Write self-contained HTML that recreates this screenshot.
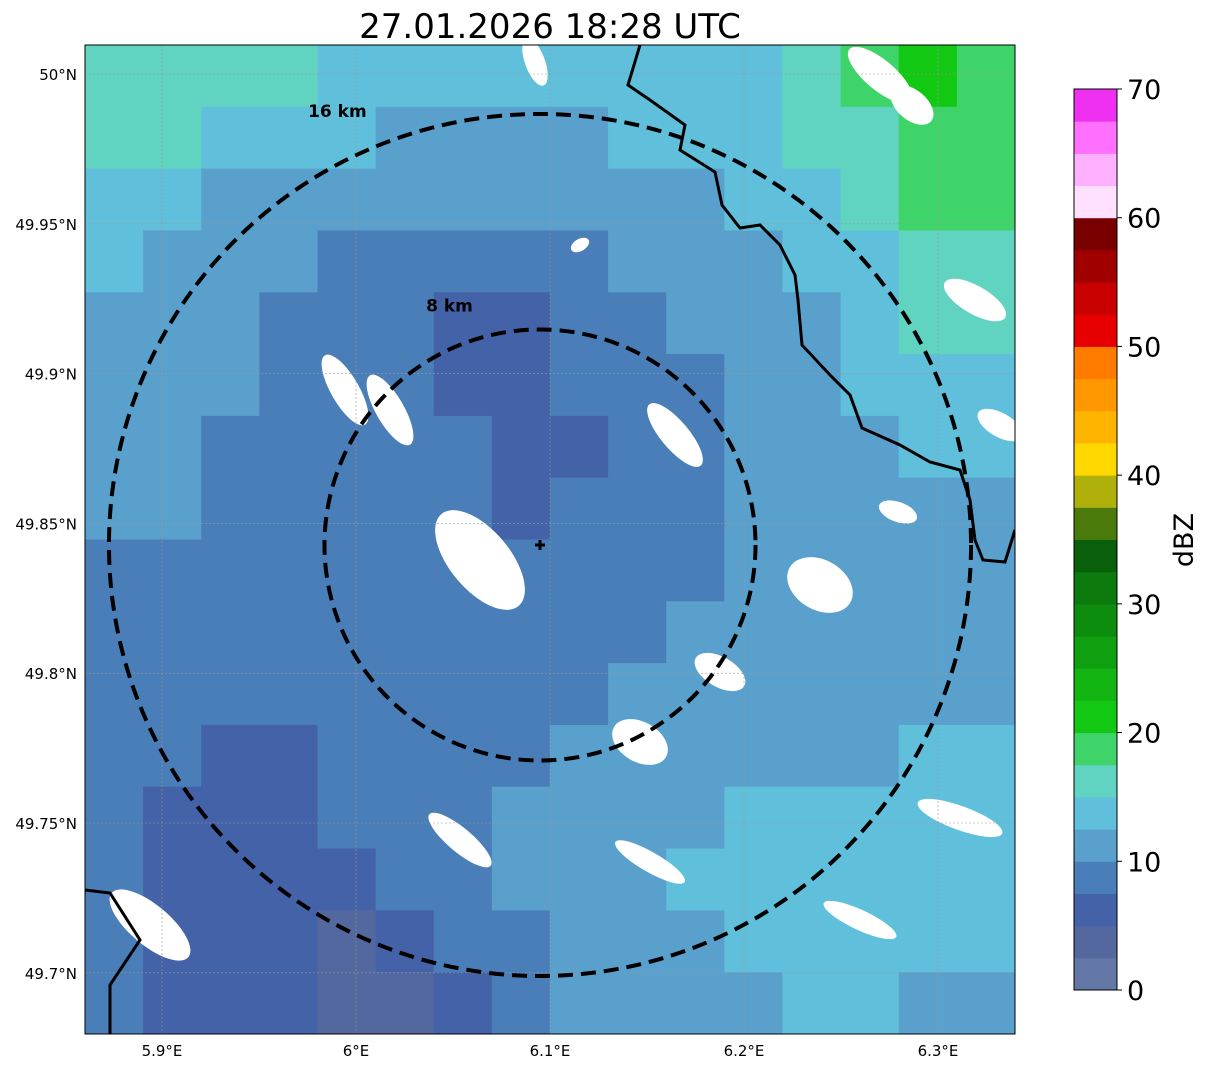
<!DOCTYPE html>
<html><head><meta charset="utf-8"><style>
body{margin:0;background:#fff;font-family:"Liberation Sans","DejaVu Sans",sans-serif}
svg text{font-family:"DejaVu Sans","Liberation Sans",sans-serif}
</style></head><body>
<svg id="c" width="1207" height="1069" xmlns="http://www.w3.org/2000/svg"></svg>
<script>
const binColors=["#6478a8","#5468a0","#4462a8","#4a7eb8","#5aa0cc","#60c0dc","#60d4c0","#3ed46a","#12c812","#12b512","#0fa00f","#0e8c0e","#0c7a0c","#0a5f0a","#4a7a0a","#b0b00a","#ffd800","#ffb400","#ff9800","#ff7c00","#e60000","#c80000","#a00000","#780000","#ffe0ff","#ffb0ff","#ff70ff","#f030f0"];
const cbTicks=[0,10,20,30,40,50,60,70];
const gridRows=[
[16,16,15,15,14,13,14,13,13,14,14,14,15,19,20,19],
[16,15,14,13,13,12,12,12,12,13,13,14,15,17,19,19],
[14,13,12,12,11,10,10,11,11,12,12,13,14,15,18,18],
[13,12,11,10,9,8,8,8,9,10,11,12,13,14,16,15],
[12,11,10,9,8,8,7,7,8,9,10,11,12,14,15,15],
[11,10,10,9,8,8,7,7,8,8,9,10,12,13,14,14],
[11,10,9,9,9,8,8,7,7,8,9,10,11,12,13,13],
[10,10,9,9,9,9,8,7,8,8,9,10,11,12,12,12],
[9,9,9,9,9,9,8,8,8,9,9,10,11,12,12,12],
[9,9,8,8,9,9,8,8,9,9,10,11,11,12,12,12],
[8,8,8,8,8,9,8,8,9,10,11,11,12,12,12,12],
[8,8,7,7,8,8,8,9,10,11,12,12,12,12,13,13],
[8,7,7,7,8,9,9,10,11,12,12,13,13,13,13,13],
[8,7,6,5,6,8,9,10,11,12,13,13,13,14,14,14],
[8,7,6,5,4,5,8,9,11,12,12,13,13,13,13,13],
[8,7,6,5,3,4,5,8,10,11,12,12,13,13,12,12]];
const lonTicks=["5.9°E","6°E","6.1°E","6.2°E","6.3°E"];
const lonVals=[5.9,6.0,6.1,6.2,6.3];
const latTicks=["50°N","49.95°N","49.9°N","49.85°N","49.8°N","49.75°N","49.7°N"];
const latVals=[50.0,49.95,49.9,49.85,49.8,49.75,49.7];
const ringKm=[16,8];
const X0=85,X1=1015,Y0=45,Y1=1034;
const lonX=v=>162+(v-5.9)*1940;
const latY=v=>74+(50-v)*2996;
const kmR=k=>k*26.94;
const cx=540,cy=545;
const cbY=v=>990-v*(901/70);
const svg=document.getElementById('c');const NS="http://www.w3.org/2000/svg";
function mk(t,a,p){const e=document.createElementNS(NS,t);for(const k in a)e.setAttribute(k,a[k]);(p||svg).appendChild(e);return e;}
const g=mk('g',{'clip-path':'url(#cl)'});
const cp=mk('clipPath',{id:'cl'});mk('rect',{x:X0,y:Y0,width:X1-X0,height:Y1-Y0},cp);
const cw=(X1-X0)/16,ch=(Y1-Y0)/16;
gridRows.forEach((row,r)=>row.forEach((v,c)=>{
 const e=mk('rect',{x:X0+c*cw,y:Y0+r*ch,width:cw+0.6,height:ch+0.6,fill:binColors[Math.min(27,Math.floor(v/2.5))]},g);
 
 
}));
[[480,560,60,30,-50],[345,390,40,14,-60],[390,410,40,14,-60],[675,435,40,14,-50],[820,585,35,25,-30],[640,742,30,20,-30],[720,672,28,15,-30],[460,840,40,12,-40],[535,62,25,10,-70],[912,105,25,15,-40],[975,300,35,14,-30],[1000,425,25,12,-30],[898,512,20,10,-20],[960,818,45,12,-20],[860,920,40,10,-25],[150,925,50,20,-40],[650,862,40,10,-30],[580,245,6,10,-60],[880,75,40,15,-40]].forEach(p=>{
 const e=mk('ellipse',{cx:p[0],cy:p[1],rx:p[2],ry:p[3],fill:'#fff',transform:`rotate(${-p[4]} ${p[0]} ${p[1]})`},g);
 
 
});
lonVals.forEach(v=>mk('line',{x1:lonX(v),x2:lonX(v),y1:Y0,y2:Y1,stroke:'#999','stroke-width':0.6,'stroke-dasharray':'2 2'},g));
latVals.forEach(v=>mk('line',{y1:latY(v),y2:latY(v),x1:X0,x2:X1,stroke:'#999','stroke-width':0.6,'stroke-dasharray':'2 2'},g));
const b1=mk('polyline',{points:"640,45 628,85 650,100 685,125 680,150 715,172 722,205 740,228 760,225 780,245 795,275 798,300 802,345 830,375 850,395 862,428 900,445 930,462 960,470 970,500 975,540 983,560 1005,562 1015,530",fill:'none',stroke:'#000','stroke-width':3},g);

const b2=mk('polyline',{points:"85,890 110,893 140,940 110,985 110,1034",fill:'none',stroke:'#000','stroke-width':3},g);

ringKm.forEach(k=>{const r=kmR(k);const e=mk('circle',{cx:cx,cy:cy,r:r,fill:'none',stroke:'#000','stroke-width':4,'stroke-dasharray':'15 8'});
 
 const lx=k>10?cx-r*0.47:cx-r*0.42;const ly=k>10?cy-r+3:cy-r-18;
 const t=mk('text',{x:lx,y:ly,'font-size':17,'font-weight':'bold','text-anchor':'middle'});t.textContent=k+' km';
 });
mk('path',{d:`M${cx-5} ${cy}H${cx+5}M${cx} ${cy-5}V${cy+5}`,stroke:'#000','stroke-width':3});
const fr=mk('rect',{x:X0,y:Y0,width:X1-X0,height:Y1-Y0,fill:'none',stroke:'#000','stroke-width':1});

lonVals.forEach((v,i)=>{const t=mk('text',{x:lonX(v),y:1056,'font-size':15,'text-anchor':'middle'});t.textContent=lonTicks[i];
 });
latVals.forEach((v,i)=>{const t=mk('text',{x:77,y:latY(v)+6,'font-size':15,'text-anchor':'end'});t.textContent=latTicks[i];
 });
const ti=mk('text',{x:550,y:38,'font-size':34,'text-anchor':'middle'});ti.textContent='27.01.2026 18:28 UTC';

binColors.forEach((c,i)=>{const e=mk('rect',{x:1074,y:cbY((i+1)*2.5),width:43,height:cbY(0)-cbY(2.5)+0.5,fill:c});
 });
mk('rect',{x:1074,y:89,width:43,height:901,fill:'none',stroke:'#000','stroke-width':1});
cbTicks.forEach(v=>{mk('line',{x1:1117,x2:1122,y1:cbY(v),y2:cbY(v),stroke:'#000'});
 const t=mk('text',{x:1127,y:cbY(v)+10,'font-size':27});t.textContent=v;
 });
const cl=mk('text',{x:1193,y:540,'font-size':27,'text-anchor':'middle',transform:'rotate(-90 1193 540)'});cl.textContent='dBZ';

</script>
</body></html>
